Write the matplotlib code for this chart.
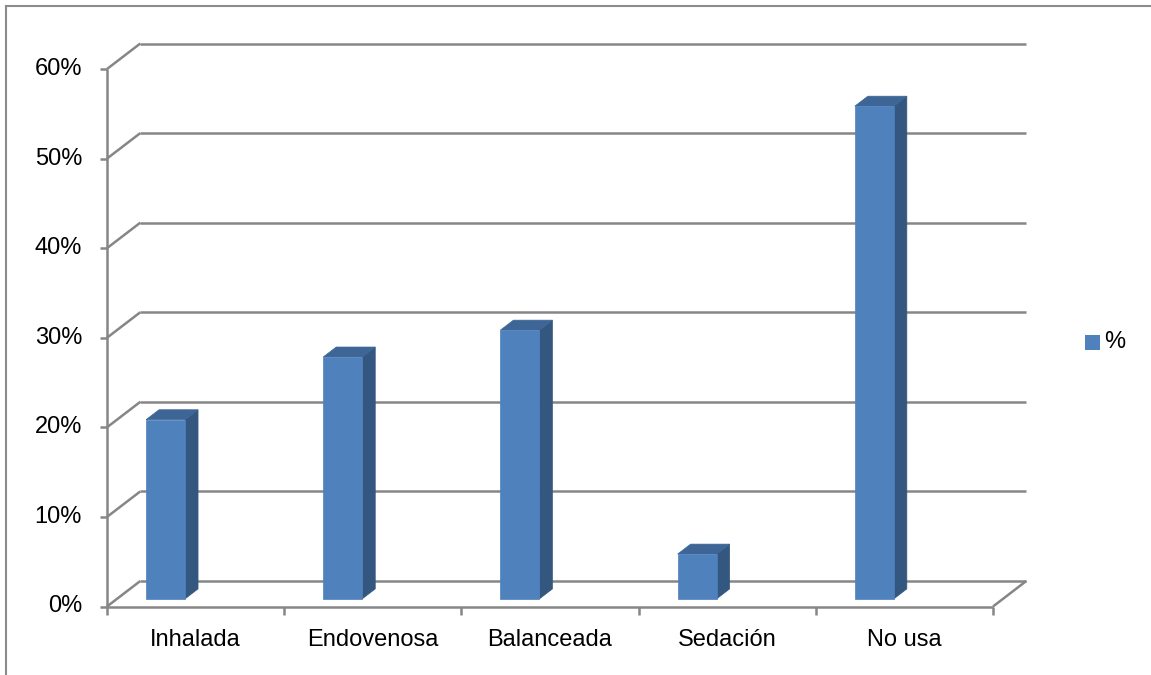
import matplotlib
matplotlib.use("Agg")
import matplotlib.pyplot as plt
from matplotlib.patches import Polygon, Rectangle
from matplotlib.lines import Line2D

categories = ["Inhalada", "Endovenosa", "Balanceada", "Sedación", "No usa"]
values = [20, 27, 30, 5, 55]
yticks = [0, 10, 20, 30, 40, 50, 60]
ytick_labels = ["0%", "10%", "20%", "30%", "40%", "50%", "60%"]
series_name = "%"

W, H = 1151, 675
DPI = 100
fig = plt.figure(figsize=(W / DPI, H / DPI), dpi=DPI)
fig.patch.set_facecolor("white")

# front plane of the 3D box in pixels
left_px, right_px, bottom_px, top_px = 107, 993, 606.5, 69
ax = fig.add_axes([left_px / W, 1 - bottom_px / H, (right_px - left_px) / W, (bottom_px - top_px) / H])
ax.set_xlim(-0.5, len(categories) - 0.5)
ax.set_ylim(0, 60)
ax.axis("off")

px_per_cat = (right_px - left_px) / len(categories)
px_per_pct = (bottom_px - top_px) / 60.0
DX = 33.3 / px_per_cat      # depth offset in category units
DY = 25.5 / px_per_pct      # depth offset in percent units

grid_c = "#868686"
lw = 1.8
x0, x1 = -0.5, len(categories) - 0.5

def line(xs, ys, **kw):
    ax.add_line(Line2D(xs, ys, color=kw.pop("color", grid_c), lw=kw.pop("lw", lw),
                       clip_on=False, solid_capstyle="butt", **kw))

# back wall gridlines + left wall diagonals
for v in yticks:
    line([x0 + DX, x1 + DX], [v + DY, v + DY], zorder=1)
    line([x0, x0 + DX], [v, v + DY], zorder=1)
# floor edges
line([x0, x1], [0, 0], zorder=1)
line([x1, x1 + DX], [0, DY], zorder=1)
# y axis
line([x0, x0], [0, 60], zorder=1)

# tick marks
tick_len_y = 7 / px_per_cat
for v in yticks:
    line([x0 - tick_len_y, x0], [v, v], zorder=1)
tick_len_x = 8.5 / px_per_pct
for i in range(len(categories) + 1):
    xb = x0 + i
    line([xb, xb], [0, -tick_len_x], zorder=1)

# tick labels
for v, lab in zip(yticks, ytick_labels):
    ax.annotate(lab, xy=(x0, v), xytext=(-25 * 0.72, 0), textcoords="offset points",
                ha="right", va="center", fontsize=17, family="Liberation Sans",
                color="black", annotation_clip=False)
for i, c in enumerate(categories):
    ax.annotate(c, xy=(i, 0), xytext=(0, -34 * 0.72), textcoords="offset points",
                ha="center", va="center", fontsize=17, family="Liberation Sans",
                color="black", annotation_clip=False)

# bars
front_c = "#4F81BD"
side_c = "#34577F"
top_c = "#3D6696"
f0, f1 = 0.30, 0.69
bar_off = 0.164
bar_w = 39 / px_per_cat
for i, v in enumerate(values):
    xl = i - 0.5 + bar_off
    xr = xl + bar_w
    ax0, ay0 = f0 * DX, f0 * DY
    ax1, ay1 = f1 * DX, f1 * DY
    side = Polygon([(xr + ax0, ay0), (xr + ax1, ay1), (xr + ax1, v + ay1), (xr + ax0, v + ay0)],
                   closed=True, fc=side_c, ec=side_c, lw=0.5, zorder=3, clip_on=False)
    top = Polygon([(xl + ax0, v + ay0), (xr + ax0, v + ay0), (xr + ax1, v + ay1), (xl + ax1, v + ay1)],
                  closed=True, fc=top_c, ec=top_c, lw=0.5, zorder=3, clip_on=False)
    front = Polygon([(xl + ax0, ay0), (xr + ax0, ay0), (xr + ax0, v + ay0), (xl + ax0, v + ay0)],
                    closed=True, fc=front_c, ec=front_c, lw=0.5, zorder=4, clip_on=False)
    ax.add_patch(side)
    ax.add_patch(top)
    ax.add_patch(front)

# legend
fig.patches.append(Rectangle((1085 / W, 1 - 350 / H), 15 / W, 15 / H, transform=fig.transFigure,
                             fc=front_c, ec="none"))
fig.text(1104 / W, 1 - 342 / H, series_name, ha="left", va="center", fontsize=17,
         family="Liberation Sans", color="black")

# chart area border
fig.lines.append(Line2D([6 / W, 6 / W], [0, 1 - 6 / H], transform=fig.transFigure, color="#8C8C8C", lw=1.5))
fig.lines.append(Line2D([6 / W, 1], [1 - 6 / H, 1 - 6 / H], transform=fig.transFigure, color="#8C8C8C", lw=1.5))

fig.savefig("out.png", dpi=DPI, facecolor="white")
